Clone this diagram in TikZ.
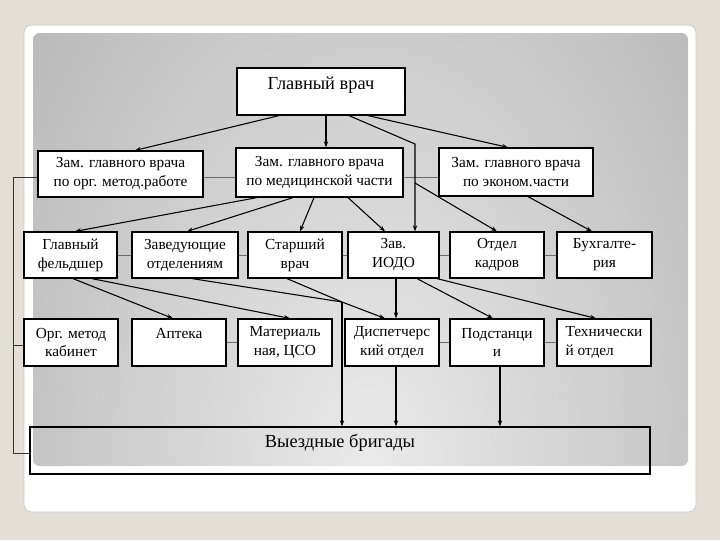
\documentclass[tikz,border=0pt]{standalone}
\usepackage{fontspec}
\setmainfont{Liberation Serif}
\usetikzlibrary{arrows.meta,calc}
\definecolor{bgbeige}{HTML}{E4DFD6}
\definecolor{cardedge}{HTML}{CFCAC0}
\definecolor{panelin}{HTML}{EAEAEA}
\definecolor{panelout}{HTML}{9E9E9E}
\definecolor{linkgray}{HTML}{6A6A6A}
\begin{document}
\begin{tikzpicture}[x=0.75pt,y=-0.75pt,
  box/.style={draw=black,fill=white,line width=0.9pt,inner sep=0pt,align=center,
    font=\fontsize{11.5}{14.2}\selectfont},
  arr/.style={draw=black,line width=0.8pt,-{Stealth[length=4.5pt,width=3.2pt]}},
  link/.style={draw=linkgray,line width=0.6pt},
  brk/.style={draw=black!80,line width=0.6pt}]
\useasboundingbox (0,0) rectangle (720,540);
\fill[bgbeige] (0,0) rectangle (720,540);
% card
\fill[black!12,rounded corners=6pt] (25,28) rectangle (697,514);
\filldraw[fill=white,draw=cardedge,line width=0.5pt,rounded corners=6pt] (24,25) rectangle (696,512);
% gradient panel
\begin{scope}
\clip[rounded corners=5pt] (33,33) rectangle (688,466);
\shade[inner color=panelin,outer color=panelout] (-310,-650) rectangle (1050,1590);
\end{scope}

% nodes
\node[box,minimum width=168*0.75pt,minimum height=47*0.75pt,text depth=12pt,
  font=\fontsize{13.8}{16}\selectfont] (gv) at (321,91.5) {Главный врач};
\node[box,minimum width=165*0.75pt,minimum height=46*0.75pt] (z1) at (120.5,174) {Зам. главного врача\\по орг. метод.работе};
\node[box,minimum width=167*0.75pt,minimum height=49*0.75pt] (z2) at (319.5,172.5) {Зам. главного врача\\по медицинской части};
\node[box,minimum width=154*0.75pt,minimum height=48*0.75pt] (z3) at (516,172) {Зам. главного врача\\по эконом.части};

\node[box,minimum width=93*0.75pt,minimum height=46*0.75pt] (r3a) at (70.5,255) {Главный\\фельдшер};
\node[box,minimum width=106*0.75pt,minimum height=46*0.75pt] (r3b) at (185,255) {Заведующие\\отделениям};
\node[box,minimum width=94*0.75pt,minimum height=46*0.75pt] (r3c) at (295,255) {Старший\\врач};
\node[box,minimum width=91*0.75pt,minimum height=46*0.75pt] (r3d) at (393.5,255) {Зав.\\ИОДО};
\node[box,minimum width=94*0.75pt,minimum height=46*0.75pt] (r3e) at (497,255) {Отдел\\кадров};
\node[box,minimum width=95*0.75pt,minimum height=46*0.75pt] (r3f) at (604.5,255) {Бухгалте-\\рия};

\node[box,minimum width=94*0.75pt,minimum height=47*0.75pt] (r4a) at (71,342.5) {Орг. метод\\кабинет};
\node[box,minimum width=94*0.75pt,minimum height=47*0.75pt] (r4b) at (179,342.5) {Аптека\\\mbox{}};
\node[box,minimum width=94*0.75pt,minimum height=47*0.75pt] (r4c) at (285,342.5) {Материаль\\ная, ЦСО};
\node[box,minimum width=94*0.75pt,minimum height=47*0.75pt] (r4d) at (392,342.5) {Диспетчерс\\кий отдел};
\node[box,minimum width=94*0.75pt,minimum height=47*0.75pt] (r4e) at (497,342.5) {Подстанци\\и};
\node[box,minimum width=94*0.75pt,minimum height=47*0.75pt,align=left] (r4f) at (604,342.5) {Технически\\й отдел};

% helper coordinates
\coordinate (L1) at (13,177);
\coordinate (L2) at (13,345);
\coordinate (L3) at (13,453);
\coordinate (kb) at (415,144);
\coordinate (kk) at (415,183);
\coordinate (j) at (342,302);
\coordinate (d4) at ($(r4d.south)+(4,0)$);
\coordinate (e4) at ($(r4e.south)+(3,0)$);

% gray links between boxes
\draw[link] (z1.east |- L1) -- (z2.west |- L1);
\draw[link] (z2.east |- L1) -- (z3.west |- L1);
\draw[link] (r3a.east) -- (r3b.west);
\draw[link] (r3b.east) -- (r3c.west);
\draw[link] (r3c.east) -- (r3d.west);
\draw[link] (r3d.east) -- (r3e.west);
\draw[link] (r3e.east) -- (r3f.west);
\draw[link] (r4b.east) -- (r4c.west);
\draw[link] (r4d.east) -- (r4e.west);
\draw[link] (r4e.east) -- (r4f.west);

% bottom box (no fill)
\node[draw=black,line width=0.9pt,minimum width=620*0.75pt,minimum height=47*0.75pt,inner sep=0pt,
  text depth=14pt,font=\fontsize{13.8}{16}\selectfont] (vb) at (340,450.5) {Выездные бригады};

% left bracket
\draw[brk] (L1 -| z1.west) -- (L1) -- (L3) -- (L3 -| vb.west);
\draw[brk] (L2) -- (L2 -| r4a.west);

% arrows from Главный врач
\draw[arr] ($(gv.south)+(-42,0)$) -- ($(z1.north)+(14.5,0)$);
\draw[arr] ($(gv.south)+(5,0)$) -- ($(z2.north)+(6.5,0)$);
\draw[arr] ($(gv.south)+(28,0)$) -- (kb) -- (kb |- r3d.north);
\draw[arr] ($(gv.south)+(47,0)$) -- ($(z3.north)+(-8,0)$);

% arrows from deputies
\draw[arr] ($(z2.south)+(-62.5,0)$) -- ($(r3a.north)+(4.5,0)$);
\draw[arr] ($(z2.south)+(-26.5,0)$) -- ($(r3b.north)+(2,0)$);
\draw[arr] ($(z2.south)+(-5.5,0)$) -- ($(r3c.north)+(5,0)$);
\draw[arr] ($(z2.south)+(28.5,0)$) -- ($(r3d.north)+(-8.5,0)$);
\draw[arr] (kk) -- (r3e.north);
\draw[arr] ($(z3.south)+(12,0)$) -- ($(r3f.north)+(-12.5,0)$);

% row 3 to row 4
\draw[arr] ($(r3a.south)+(2.5,0)$) -- ($(r4b.north)+(-6,0)$);
\draw[arr] ($(r3a.south)+(21.5,0)$) -- ($(r4c.north)+(5,0)$);
\draw[line width=0.8pt] ($(r3b.south)+(7,0)$) -- (j);
\draw[line width=0.8pt] ($(r3c.south)+(-8,0)$) -- (j);
\draw[arr] (j) -- ($(r4d.north)+(-7,0)$);
\draw[arr] (j) -- (j |- vb.north);
\draw[arr] ($(r3d.south)+(2.5,0)$) -- ($(r4d.north)+(4,0)$);
\draw[arr] ($(r3d.south)+(23.5,0)$) -- ($(r4e.north)+(-4,0)$);
\draw[arr] ($(r3d.south)+(43.5,0)$) -- ($(r4f.north)+(-8,0)$);

% row 4 to bottom
\draw[arr] (d4) -- (d4 |- vb.north);
\draw[arr] (e4) -- (e4 |- vb.north);
\end{tikzpicture}
\end{document}
